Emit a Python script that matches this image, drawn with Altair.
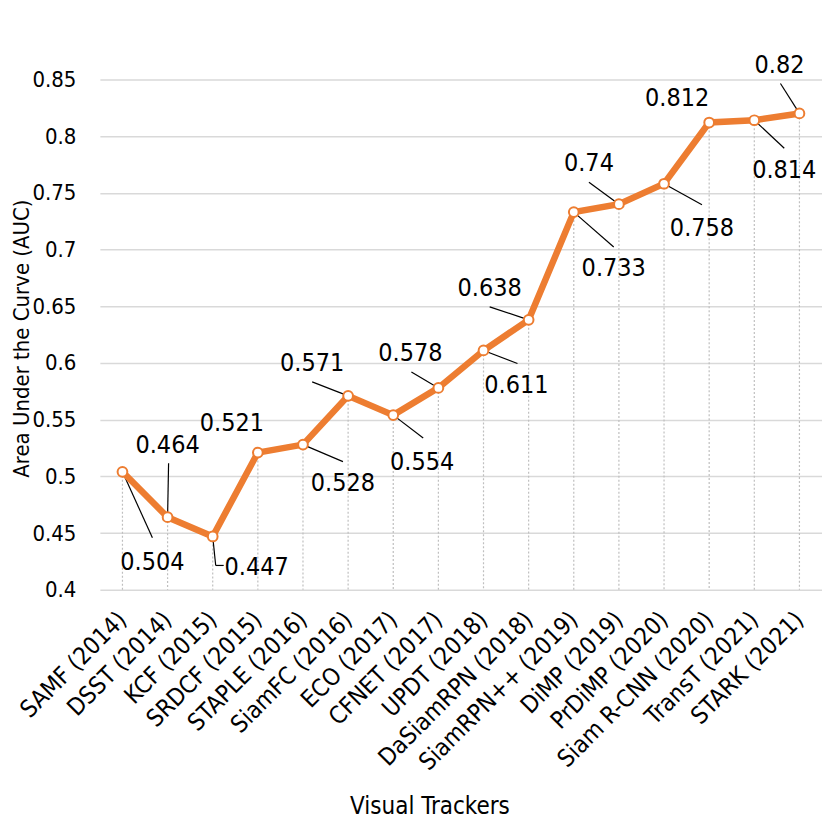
import json
import altair as alt
import pandas as pd

trackers = ["SAMF (2014)", "DSST (2014)", "KCF (2015)", "SRDCF (2015)", "STAPLE (2016)",
            "SiamFC (2016)", "ECO (2017)", "CFNET (2017)", "UPDT (2018)", "DaSiamRPN (2018)",
            "SiamRPN++ (2019)", "DiMP (2019)", "PrDiMP (2020)", "Siam R-CNN (2020)",
            "TransT (2021)", "STARK (2021)"]
auc = [0.504, 0.464, 0.447, 0.521, 0.528, 0.571, 0.554, 0.578, 0.611, 0.638,
       0.733, 0.74, 0.758, 0.812, 0.814, 0.82]
y_ticks = [0.4, 0.45, 0.5, 0.55, 0.6, 0.65, 0.7, 0.75, 0.8, 0.85]

# label placement (pixel offsets from the point) and leader line ends
label_off = [(30, 90), (0, -72), (44, 31), (-26, -30), (40, 38), (-36, -33), (29, 47), (-28, -35),
             (33, 35), (-39, -32), (40, 56), (-30, -41), (38, 44), (-32, -25), (30, 50), (-20, -48)]
leaders = [(0, 0, 0, 30, 66), (1, 0, 0, 1, -54), (2, 0, 0, 3, 29), (2, 3, 29, 11, 29),
           (4, 0, 0, 40, 17), (5, 0, 0, -36, -14), (6, 0, 0, 30, 23), (7, 0, 0, -27, -16),
           (8, 0, 0, 34, 13), (9, 0, 0, -39, -13), (10, 0, 0, 40, 35), (11, 0, 0, -30, -22),
           (12, 0, 0, 38, 21), (14, 0, 0, 30, 28), (15, 0, 0, -19, -30)]

W, H = 723, 511
YMIN, YMAX = 0.4, 0.85
STEP = W / len(trackers)
PPU = H / (YMAX - YMIN)

FONT = "DejaVu Sans Condensed, DejaVu Sans, sans-serif"
ORANGE = "#ED7D31"

df = pd.DataFrame({"idx": list(range(len(trackers))), "name": trackers, "auc": auc,
                   "label": [str(v) for v in auc], "base": YMIN})
df["lx"] = [i + o[0] / STEP for i, o in zip(df["idx"], label_off)]
df["ly"] = [v - o[1] / PPU for v, o in zip(df["auc"], label_off)]

ld = pd.DataFrame([{
    "x1": i + a / STEP, "y1": auc[i] - b / PPU,
    "x2": i + c / STEP, "y2": auc[i] - d / PPU} for i, a, b, c, d in leaders])

names_js = json.dumps(trackers)

xscale = alt.Scale(domain=[-0.5, len(trackers) - 0.5], nice=False, zero=False)
yscale = alt.Scale(domain=[YMIN, YMAX], nice=False, zero=False)

xaxis = alt.Axis(values=list(range(len(trackers))), labelExpr=f"{names_js}[datum.value]",
                 labelAngle=-45, labelAlign="right", labelBaseline="middle",
                 labelFontSize=24, labelFont=FONT, labelColor="black", labelPadding=26,
                 labelLimit=0, ticks=False, tickSize=0, domain=False, grid=False,
                 title="Visual Trackers", titleFont=FONT, titleFontSize=24,
                 titleFontWeight="normal", titleColor="black",
                 titleX=330, titleY=224, titleAlign="center", titleBaseline="alphabetic",
                 labelOverlap=False)
yaxis = alt.Axis(values=y_ticks, format=".2~f", labelFontSize=22, labelFont=FONT,
                 labelColor="black", labelPadding=24, ticks=False, tickSize=0, domain=False,
                 grid=True, gridColor="#d9d9d9", gridWidth=1.5,
                 title="Area Under the Curve (AUC)", titleFont=FONT, titleFontSize=22,
                 titleFontWeight="normal", titleColor="black", titleAngle=-90,
                 titleX=-71, titleY=259, titleAlign="center", titleBaseline="alphabetic")

base = alt.Chart(df)

drops = base.mark_rule(color="#bfbfbf", strokeDash=[2, 2], strokeWidth=1.2).encode(
    x=alt.X("idx:Q", scale=xscale, axis=xaxis),
    y=alt.Y("auc:Q", scale=yscale, axis=yaxis),
    y2="base:Q")

lead = alt.Chart(ld).mark_rule(color="black", strokeWidth=1.2).encode(
    x=alt.X("x1:Q", scale=xscale), y=alt.Y("y1:Q", scale=yscale),
    x2="x2:Q", y2="y2:Q")

line = base.mark_line(color=ORANGE, strokeWidth=6.5, strokeJoin="miter").encode(
    x=alt.X("idx:Q", scale=xscale), y=alt.Y("auc:Q", scale=yscale))

pts = base.mark_point(shape="circle", filled=True, fill="white", stroke=ORANGE,
                      strokeWidth=2, size=95, opacity=1).encode(
    x=alt.X("idx:Q", scale=xscale), y=alt.Y("auc:Q", scale=yscale))

labels = base.mark_text(font=FONT, fontSize=25, color="black", align="center",
                        baseline="middle").encode(
    x=alt.X("lx:Q", scale=xscale), y=alt.Y("ly:Q", scale=yscale), text="label:N")

chart = alt.layer(drops, lead, line, pts, labels).properties(
    width=W, height=H,
    autosize=alt.AutoSizeParams(type="none"),
    padding={"left": 92, "top": 71, "right": 0, "bottom": 232},
    background="white",
).configure_view(stroke=None)

chart.save("out.html", embed_options={"renderer": "svg", "actions": False})
